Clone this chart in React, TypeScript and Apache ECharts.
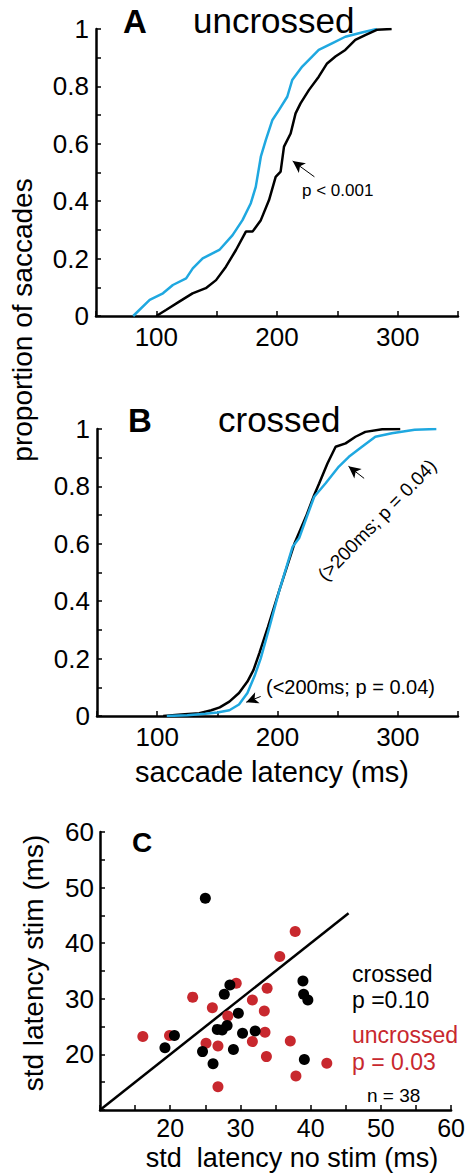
import React, { useEffect, useRef } from "react";
import * as echarts from "echarts";

// Panel A (uncrossed): [latency ms, cumulative proportion]
const aNoStim: [number, number][] = [
  [100, 0], [108, 0.021], [119, 0.05], [130, 0.079], [141, 0.097], [149.5, 0.125],
  [157.7, 0.172], [166, 0.23], [174.2, 0.294], [179.7, 0.294], [186.6, 0.334],
  [193.4, 0.404], [198.9, 0.485], [203, 0.503], [205.8, 0.59], [211.3, 0.636],
  [215.4, 0.706], [219.5, 0.741], [226.4, 0.787], [234.6, 0.834], [241.5, 0.88],
  [248.4, 0.904], [256.6, 0.927], [264.9, 0.962], [273.1, 0.979], [282.7, 0.997], [295, 1],
];
const aStim: [number, number][] = [
  [80.8, 0], [94.5, 0.056], [105.5, 0.079], [113.7, 0.108], [124.7, 0.131], [130.2, 0.166],
  [138.4, 0.201], [152.2, 0.23], [163.2, 0.282], [171.4, 0.334], [178.3, 0.393],
  [182.4, 0.45], [186.6, 0.555], [190.7, 0.613], [196.2, 0.683], [201.7, 0.718],
  [208.5, 0.764], [212.6, 0.822], [220.9, 0.869], [229.1, 0.904], [234.6, 0.927],
  [245.6, 0.95], [256.6, 0.973], [270.3, 0.988], [282.7, 1],
];
// Panel B (crossed)
const bNoStim: [number, number][] = [
  [105, 0], [120, 0.005], [135, 0.01], [145, 0.02], [152, 0.03], [160, 0.05], [168, 0.08],
  [175, 0.12], [180, 0.16], [185, 0.22], [192, 0.31], [201.7, 0.44], [214, 0.6],
  [223.6, 0.694], [230.5, 0.77], [234.6, 0.81], [241.5, 0.88], [248.3, 0.938],
  [256.6, 0.95], [264.8, 0.973], [273, 0.99], [287, 0.999], [302, 1],
];
const bStim: [number, number][] = [
  [108, 0], [125, 0.003], [140, 0.008], [150, 0.012], [160, 0.02], [168, 0.04], [175, 0.08],
  [181, 0.14], [186, 0.2], [193.4, 0.311], [201, 0.43], [212.6, 0.59], [218, 0.62],
  [224, 0.69], [230.5, 0.764], [240, 0.811], [251, 0.869], [259.3, 0.903], [270.2, 0.938],
  [281.3, 0.973], [295, 0.985], [314, 0.997], [332, 1],
];
// Panel C: [std latency no stim, std latency stim]
const cCrossed: [number, number][] = [
  [25.0, 48.1], [19.25, 21.2], [20.6, 23.4], [24.6, 20.5], [26.1, 18.3], [26.7, 24.5],
  [27.4, 24.4], [28.1, 25.2], [27.7, 30.8], [28.5, 32.5], [29.7, 27.4], [29.0, 20.9],
  [30.3, 23.8], [32.1, 24.2], [38.9, 33.2], [39.0, 30.8], [39.6, 29.8], [39.1, 19.1],
];
const cUncrossed: [number, number][] = [
  [16.1, 23.2], [19.9, 23.4], [23.2, 30.3], [25.1, 22.0], [26.0, 28.4], [26.8, 21.5],
  [26.8, 14.2], [28.2, 26.9], [29.4, 32.8], [31.7, 29.8], [31.7, 22.3], [33.4, 27.8],
  [33.5, 24.0], [33.7, 19.6], [33.8, 31.9], [35.6, 37.6], [37.1, 22.4], [37.8, 42.1],
  [37.9, 16.1], [42.3, 18.4],
];
const unityLine: [number, number][] = [[10, 10], [45.4, 45.4]];

const latencyTicks = [100, 200, 300];
const propTicks = [0, 0.2, 0.4, 0.6, 0.8, 1];
const stdTicks = [20, 30, 40, 50, 60];

const FONT = "Liberation Sans, Arial, Helvetica, sans-serif";
const BLUE = "#1fa8e0";
const RED = "#c8282e";
const BLACK = "#000000";

function makeAxisCommon() {
  return {
    axisLine: { show: true, onZero: false, lineStyle: { color: BLACK, width: 2.5 } },
    axisTick: { show: true, inside: true, length: 5, lineStyle: { color: BLACK, width: 1.5 } },
    minorTick: { show: true, splitNumber: 2, length: 5, lineStyle: { color: BLACK, width: 1.5 } },
    splitLine: { show: false },
    minorSplitLine: { show: false },
  };
}

// text placed by its alphabetic baseline (converted to a centred anchor)
function txt(text: string, x: number, baseline: number, fs: number, opts: any = {}) {
  return {
    type: "text",
    x,
    y: baseline - 0.35 * fs,
    style: {
      text, fontSize: fs, fontFamily: FONT, fill: opts.fill || BLACK,
      fontWeight: opts.bold ? "bold" : "normal",
      textAlign: opts.align || "left", textVerticalAlign: "middle",
    },
  };
}

export default function App() {
  const ref = useRef<HTMLDivElement>(null);
  useEffect(() => {
    document.body.style.margin = "0";
    const chart = echarts.init(ref.current!, null, { renderer: "svg" });
    const common = makeAxisCommon();
    const latLabel = {
      show: true, color: BLACK, fontSize: 26, fontFamily: FONT, margin: 8,
      formatter: (v: number) => (latencyTicks.includes(v) ? String(v) : ""),
    };
    const propLabel = {
      show: true, color: BLACK, fontSize: 26, fontFamily: FONT, margin: 7,
      formatter: (v: number) => (propTicks.some((t) => Math.abs(t - v) < 1e-6) ? String(+v.toFixed(1)) : ""),
    };
    const stdXLabel = {
      show: true, color: BLACK, fontSize: 25, fontFamily: FONT, margin: 5,
      formatter: (v: number) => (stdTicks.includes(v) ? String(v) : ""),
    };
    const stdYLabel = { ...stdXLabel, fontSize: 26, margin: 6 };
    const option: any = {
      animation: false,
      backgroundColor: "#ffffff",
      grid: [
        { left: 96, top: 29, width: 362, height: 287 },
        { left: 97, top: 429, width: 361, height: 287 },
        { left: 100, top: 832, width: 355, height: 278 },
      ],
      xAxis: [
        { gridIndex: 0, type: "value", min: 50, max: 350, interval: 50, ...common, minorTick: { show: false }, axisLabel: latLabel },
        { gridIndex: 1, type: "value", min: 50, max: 350, interval: 50, ...common, minorTick: { show: false }, axisLabel: latLabel },
        { gridIndex: 2, type: "value", min: 10, max: 60, interval: 10, ...common, axisLabel: stdXLabel },
      ],
      yAxis: [
        { gridIndex: 0, type: "value", min: 0, max: 1, interval: 0.2, ...common, axisLabel: propLabel },
        { gridIndex: 1, type: "value", min: 0, max: 1, interval: 0.2, ...common, axisLabel: propLabel },
        { gridIndex: 2, type: "value", min: 10, max: 60, interval: 10, ...common, axisLabel: stdYLabel },
      ],
      series: [
        {
          type: "line", xAxisIndex: 0, yAxisIndex: 0, data: aNoStim, showSymbol: false,
          lineStyle: { color: BLACK, width: 2.5 }, z: 3,
          markLine: {
            silent: true, symbol: ["none", "arrow"], symbolSize: [9, 12], label: { show: false },
            lineStyle: { color: BLACK, width: 1, type: "solid" },
            data: [[{ coord: [231, 0.485] }, { coord: [213, 0.54] }]],
          },
        },
        { type: "line", xAxisIndex: 0, yAxisIndex: 0, data: aStim, showSymbol: false, lineStyle: { color: BLUE, width: 2.5 }, z: 2 },
        { type: "line", xAxisIndex: 1, yAxisIndex: 1, data: bNoStim, showSymbol: false, lineStyle: { color: BLACK, width: 2.5 }, z: 2 },
        {
          type: "line", xAxisIndex: 1, yAxisIndex: 1, data: bStim, showSymbol: false,
          lineStyle: { color: BLUE, width: 2.5 }, z: 3,
          markLine: {
            silent: true, symbol: ["none", "arrow"], symbolSize: [9, 12], label: { show: false },
            lineStyle: { color: BLACK, width: 1, type: "solid" },
            data: [
              [{ coord: [272, 0.828] }, { coord: [259, 0.87] }],
              [{ coord: [186, 0.068] }, { coord: [174, 0.048] }],
            ],
          },
        },
        { type: "scatter", xAxisIndex: 2, yAxisIndex: 2, data: cCrossed, symbolSize: 11, itemStyle: { color: BLACK, opacity: 1 }, z: 4 },
        { type: "scatter", xAxisIndex: 2, yAxisIndex: 2, data: cUncrossed, symbolSize: 11, itemStyle: { color: RED, opacity: 1 }, z: 3 },
        { type: "line", xAxisIndex: 2, yAxisIndex: 2, data: unityLine, showSymbol: false, lineStyle: { color: BLACK, width: 2.5 }, z: 2 },
      ],
      graphic: [
        txt("A", 123, 33, 33, { bold: true }),
        txt("uncrossed", 193, 33, 35),
        txt("p < 0.001", 302, 196, 17),
        txt("B", 128, 432, 33, { bold: true }),
        txt("crossed", 218, 432, 35),
        { type: "text", x: 377, y: 520, rotation: 0.8, style: { text: "(>200ms; p = 0.04)", fontSize: 19, fontFamily: FONT, fill: BLACK, textAlign: "center", textVerticalAlign: "middle" } },
        txt("(<200ms; p = 0.04)", 266, 694, 20),
        { type: "text", x: 272, y: 772, style: { text: "saccade latency (ms)", fontSize: 29, fontFamily: FONT, fill: BLACK, textAlign: "center", textVerticalAlign: "middle" } },
        { type: "text", x: 22, y: 320, rotation: Math.PI / 2, style: { text: "proportion of saccades", fontSize: 28, fontFamily: FONT, fill: BLACK, textAlign: "center", textVerticalAlign: "middle" } },
        txt("C", 132, 852, 28, { bold: true }),
        { type: "text", x: 33, y: 963, rotation: Math.PI / 2, style: { text: "std latency stim (ms)", fontSize: 28, fontFamily: FONT, fill: BLACK, textAlign: "center", textVerticalAlign: "middle" } },
        { type: "text", x: 292, y: 1158, style: { text: "std  latency no stim (ms)", fontSize: 27, fontFamily: FONT, fill: BLACK, textAlign: "center", textVerticalAlign: "middle" } },
        txt("crossed", 352, 982, 23),
        txt("p =0.10", 352, 1008, 23),
        txt("uncrossed", 352, 1043, 23, { fill: RED }),
        txt("p = 0.03", 352, 1070, 23, { fill: RED }),
        txt("n = 38", 367, 1102, 19),
      ],
    };
    chart.setOption(option);
    return () => chart.dispose();
  }, []);
  return <div ref={ref} style={{ width: 468, height: 1176 }} />;
}
